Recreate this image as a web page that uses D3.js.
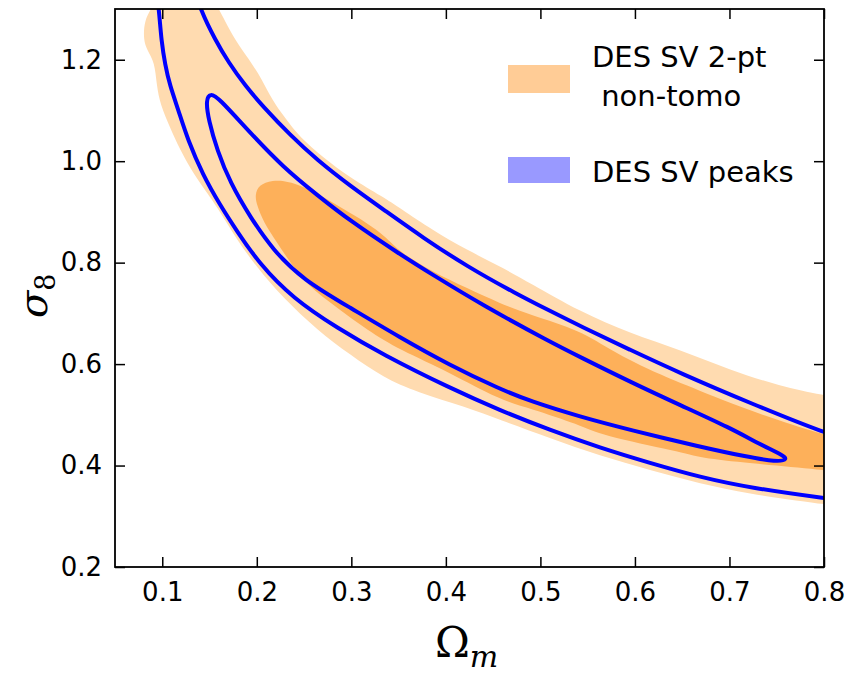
<!DOCTYPE html>
<html>
<head>
<meta charset="utf-8">
<script src="https://cdn.jsdelivr.net/npm/d3@7"></script>
<style>
  body { margin: 0; background: #fff; }
  svg { display: block; }
  .tick text { font-family: "DejaVu Sans", sans-serif; font-size: 26px; fill: #000; }
  .tick line { stroke: #000; stroke-width: 1.5; }
</style>
</head>
<body>
<svg id="chart" width="862" height="675"></svg>
<script>
// tick values
const xTicks = [0.1, 0.2, 0.3, 0.4, 0.5, 0.6, 0.7, 0.8];
const yTicks = [0.2, 0.4, 0.6, 0.8, 1.0, 1.2];

// DES SV 2-pt non-tomo, 95% region [Omega_m, sigma_8]
const twoPt95 = [
  [0.080,1.239],[0.081,1.278],[0.089,1.302],[0.098,1.337],[0.150,1.337],[0.159,1.302],
  [0.166,1.278],[0.177,1.239],[0.191,1.203],[0.206,1.160],[0.216,1.121],[0.230,1.085],
  [0.246,1.046],[0.270,1.008],[0.299,0.967],[0.334,0.929],[0.351,0.908],[0.386,0.864],
  [0.422,0.825],[0.457,0.793],[0.489,0.760],[0.542,0.703],[0.595,0.661],[0.648,0.628],
  [0.701,0.588],[0.753,0.557],[0.800,0.538],[0.830,0.530],[0.830,0.318],[0.800,0.324],
  [0.775,0.330],[0.722,0.344],[0.669,0.364],[0.616,0.391],[0.563,0.419],[0.510,0.454],
  [0.457,0.490],[0.422,0.515],[0.369,0.545],[0.334,0.573],[0.299,0.618],[0.264,0.667],
  [0.228,0.730],[0.200,0.791],[0.179,0.845],[0.158,0.910],[0.145,0.943],[0.129,0.988],
  [0.119,1.022],[0.108,1.067],[0.098,1.111],[0.094,1.150],[0.092,1.195],[0.084,1.219]
];

// DES SV 2-pt non-tomo, 68% region
const twoPt68 = [
  [0.198,0.933],[0.202,0.953],[0.216,0.963],[0.235,0.961],[0.264,0.937],[0.291,0.906],
  [0.317,0.878],[0.336,0.852],[0.351,0.821],[0.386,0.782],[0.422,0.750],[0.457,0.720],
  [0.489,0.697],[0.542,0.667],[0.577,0.624],[0.616,0.588],[0.648,0.563],[0.719,0.509],
  [0.800,0.460],[0.830,0.448],[0.830,0.385],[0.801,0.391],[0.719,0.405],[0.669,0.415],
  [0.648,0.427],[0.563,0.460],[0.542,0.480],[0.489,0.513],[0.457,0.529],[0.404,0.584],
  [0.351,0.628],[0.317,0.667],[0.285,0.711],[0.253,0.756],[0.235,0.801],[0.221,0.841],
  [0.207,0.880],[0.200,0.914]
];

// DES SV peaks, 95% contour (runs off the top and the right, two branches)
const peaks95Lower = [
  [0.094,1.337],[0.097,1.288],[0.099,1.239],[0.103,1.190],[0.108,1.150],[0.117,1.101],
  [0.127,1.042],[0.143,0.973],[0.161,0.914],[0.179,0.862],[0.203,0.797],[0.238,0.730],
  [0.285,0.671],[0.334,0.618],[0.404,0.553],[0.457,0.509],[0.510,0.470],[0.563,0.435],
  [0.616,0.405],[0.669,0.377],[0.722,0.356],[0.806,0.334],[0.830,0.330]
];
const peaks95Upper = [
  [0.135,1.337],[0.140,1.300],[0.156,1.239],[0.170,1.195],[0.188,1.148],[0.207,1.107],
  [0.235,1.052],[0.264,1.002],[0.299,0.951],[0.336,0.902],[0.376,0.849],[0.422,0.793],
  [0.475,0.738],[0.510,0.705],[0.542,0.675],[0.595,0.628],[0.648,0.582],[0.722,0.523],
  [0.806,0.460],[0.830,0.450]
];

// DES SV peaks, 68% contour (closed)
const peaks68 = [
  [0.146,1.121],[0.151,1.134],[0.159,1.126],[0.193,1.056],[0.228,0.988],[0.264,0.933],
  [0.299,0.882],[0.351,0.817],[0.386,0.776],[0.439,0.716],[0.510,0.644],[0.542,0.614],
  [0.595,0.565],[0.648,0.519],[0.701,0.474],[0.732,0.442],[0.755,0.422],[0.762,0.412],
  [0.750,0.407],[0.719,0.417],[0.669,0.437],[0.595,0.470],[0.542,0.496],[0.489,0.527],
  [0.457,0.551],[0.404,0.598],[0.351,0.653],[0.299,0.711],[0.249,0.766],[0.217,0.825],
  [0.193,0.890],[0.172,0.957],[0.158,1.022],[0.149,1.081]
];

const legendNames = ["DES SV 2-pt", " non-tomo", "DES SV peaks"];

const svg = d3.select("#chart");
const m = { left: 115, right: 824, top: 9, bottom: 567 };

const x = d3.scaleLinear().domain([0.05, 0.8]).range([m.left, m.right]);
const y = d3.scaleLinear().domain([0.2, 1.3]).range([m.bottom, m.top]);

svg.append("defs").append("clipPath").attr("id", "plot")
  .append("rect")
  .attr("x", m.left).attr("y", m.top)
  .attr("width", m.right - m.left).attr("height", m.bottom - m.top);

const plot = svg.append("g").attr("clip-path", "url(#plot)");

const area = d3.line().x(d => x(d[0])).y(d => y(d[1])).curve(d3.curveBasisClosed);
const open = d3.line().x(d => x(d[0])).y(d => y(d[1])).curve(d3.curveBasis);

plot.append("path").attr("d", area(twoPt95)).attr("fill", "#ffdbb0");
plot.append("path").attr("d", area(twoPt68)).attr("fill", "#fdb05a");

[peaks95Lower, peaks95Upper].forEach(l => {
  plot.append("path").attr("d", open(l))
    .attr("fill", "none").attr("stroke", "#0000ff").attr("stroke-width", 4);
});
plot.append("path").attr("d", area(peaks68))
  .attr("fill", "none").attr("stroke", "#0000ff").attr("stroke-width", 4);

// axes, ticks pointing inward on all four sides
const fmt = d3.format(".1f");
svg.append("g").attr("transform", `translate(0,${m.bottom})`)
  .call(d3.axisBottom(x).tickValues(xTicks).tickFormat(fmt).tickSizeInner(-10).tickSizeOuter(0).tickPadding(16))
  .call(g => g.select(".domain").remove());
svg.append("g").attr("transform", `translate(0,${m.top})`)
  .call(d3.axisTop(x).tickValues(xTicks).tickFormat("").tickSizeInner(-10).tickSizeOuter(0))
  .call(g => g.select(".domain").remove());
svg.append("g").attr("transform", `translate(${m.left},0)`)
  .call(d3.axisLeft(y).tickValues(yTicks).tickFormat(fmt).tickSizeInner(-10).tickSizeOuter(0).tickPadding(13))
  .call(g => g.select(".domain").remove());
svg.append("g").attr("transform", `translate(${m.right},0)`)
  .call(d3.axisRight(y).tickValues(yTicks).tickFormat("").tickSizeInner(-10).tickSizeOuter(0))
  .call(g => g.select(".domain").remove());

svg.append("rect")
  .attr("x", m.left).attr("y", m.top)
  .attr("width", m.right - m.left).attr("height", m.bottom - m.top)
  .attr("fill", "none").attr("stroke", "#000").attr("stroke-width", 1.8);

// axis labels
const xl = svg.append("text").attr("x", 435).attr("y", 657)
  .attr("font-family", "DejaVu Serif").attr("fill", "#000");
xl.append("tspan").attr("font-size", 42).text("Ω");
xl.append("tspan").attr("font-size", 30).attr("font-style", "italic").attr("dy", 10).text("m");

const yl = svg.append("text")
  .attr("transform", "translate(47,318) rotate(-90)")
  .attr("font-family", "DejaVu Serif").attr("fill", "#000");
yl.append("tspan").attr("font-size", 40).attr("font-style", "italic").text("σ");
yl.append("tspan").attr("font-size", 27).attr("dy", 8).text("8");

// legend
const leg = svg.append("g").attr("font-family", "DejaVu Sans").attr("font-size", 29).attr("fill", "#000");
leg.append("rect").attr("x", 508).attr("y", 65).attr("width", 62).attr("height", 28).attr("fill", "#ffcc96");
leg.append("rect").attr("x", 508).attr("y", 157).attr("width", 62).attr("height", 26).attr("fill", "#9999ff");
leg.append("text").attr("x", 592).attr("y", 67).text(legendNames[0]);
leg.append("text").attr("x", 592).attr("y", 106).style("white-space", "pre").text(legendNames[1]);
leg.append("text").attr("x", 592).attr("y", 182).text(legendNames[2]);
</script>
</body>
</html>
